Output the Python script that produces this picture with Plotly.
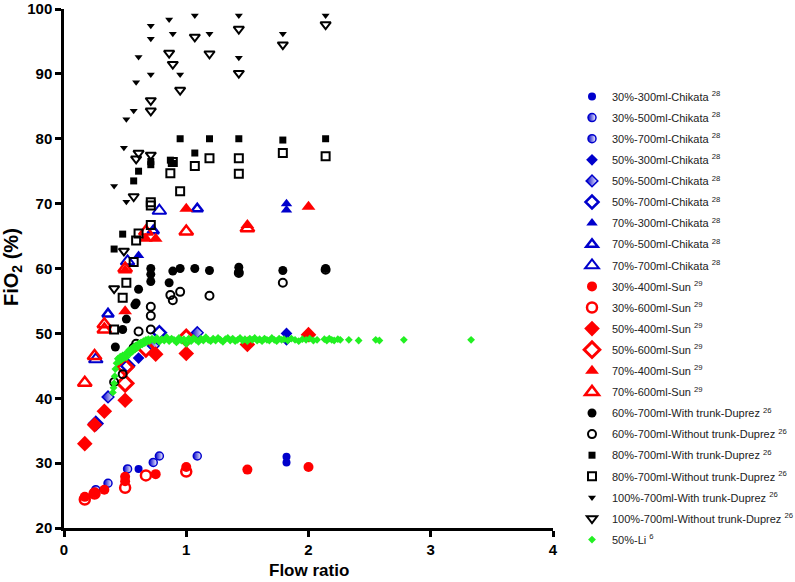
import plotly.graph_objects as go

# ---------------- data ----------------
# Chikata (blue)
c30_300_x = [0.61, 1.82, 1.82]; c30_300_y = [29.1, 30.1, 31.0]
c30_500_x = [0.36, 0.73, 1.09]; c30_500_y = [26.9, 30.1, 31.1]
c30_700_x = [0.26, 0.52, 0.78]; c30_700_y = [25.9, 29.1, 31.1]
c50_300_x = [0.61, 1.82, 1.82]; c50_300_y = [46.2, 49.0, 50.0]
c50_500_x = [0.36, 0.73, 1.09]; c50_500_y = [40.2, 48.1, 50.1]
c50_700_x = [0.26, 0.52, 0.78]; c50_700_y = [36.1, 45.0, 50.1]
c70_300_x = [0.61, 1.82, 1.82]; c70_300_y = [62.0, 69.0, 70.0]
c70_500_x = [0.36, 0.73, 1.09]; c70_500_y = [53.0, 65.8, 69.2]
c70_700_x = [0.26, 0.52, 0.78]; c70_700_y = [46.0, 61.1, 68.9]

# Sun (red)
s30_400_x = [0.17, 0.25, 0.33, 0.5, 0.5, 0.75, 1.0, 1.5, 2.0]
s30_400_y = [24.8, 25.4, 25.9, 27.9, 27.2, 28.3, 29.4, 29.0, 29.4]
s30_600_x = [0.17, 0.25, 0.5, 0.67, 1.0]
s30_600_y = [24.4, 25.3, 26.2, 28.1, 28.7]
s50_400_x = [0.17, 0.25, 0.33, 0.5, 0.75, 1.0, 1.5, 2.0]
s50_400_y = [33.0, 35.9, 38.0, 39.7, 46.8, 46.9, 48.3, 49.8]
s50_600_x = [0.5, 0.5, 0.67, 1.0]
s50_600_y = [42.3, 44.8, 47.7, 49.3]
s70_400_x = [0.5, 0.5, 0.67, 0.75, 1.0, 1.5, 2.0]
s70_400_y = [53.4, 59.7, 64.6, 64.6, 69.2, 66.7, 69.5]
s70_600_x = [0.17, 0.25, 0.33, 0.33, 0.5, 0.67, 1.0, 1.5]
s70_600_y = [42.4, 46.5, 50.6, 51.4, 60.0, 65.7, 65.7, 66.2]

# Duprez (black)
d60w_x = [0.42, 0.48, 0.51, 0.58, 0.59, 0.61, 0.71, 0.71, 0.71, 0.86, 0.89, 0.95, 1.07, 1.19, 1.43, 1.43, 1.79, 2.14]
d60w_y = [47.9, 50.6, 52.2, 54.4, 54.7, 56.8, 58.0, 59.1, 60.0, 57.8, 59.6, 60.0, 60.0, 59.7, 60.2, 59.5, 59.7, 60.0]
d60o_x = [0.41, 0.48, 0.57, 0.59, 0.61, 0.71, 0.71, 0.71, 0.87, 0.89, 0.95, 1.19, 1.43, 1.79, 2.14]
d60o_y = [42.5, 43.7, 47.8, 48.4, 50.3, 50.6, 52.7, 54.1, 55.9, 55.1, 56.4, 55.8, 59.3, 57.8, 59.8]
d80w_x = [0.41, 0.48, 0.57, 0.61, 0.71, 0.71, 0.87, 0.89, 0.95, 1.07, 1.19, 1.43, 1.79, 2.14]
d80w_y = [63.0, 65.3, 73.5, 75.0, 76.5, 76.0, 76.7, 76.2, 80.0, 77.8, 80.0, 80.0, 79.8, 80.0]
d80o_x = [0.41, 0.48, 0.51, 0.57, 0.59, 0.61, 0.71, 0.71, 0.71, 0.87, 0.89, 0.95, 1.07, 1.19, 1.43, 1.43, 1.79, 2.14]
d80o_y = [50.6, 55.5, 57.8, 61.0, 64.3, 65.4, 66.7, 69.7, 70.2, 74.7, 76.4, 71.9, 75.8, 77.0, 77.0, 74.6, 77.8, 77.3]
d100w_x = [0.41, 0.49, 0.51, 0.51, 0.57, 0.59, 0.61, 0.71, 0.71, 0.71, 0.86, 0.89, 0.95, 1.07, 1.19, 1.43, 1.43, 1.79, 2.14]
d100w_y = [72.7, 78.6, 70.3, 83.0, 84.3, 88.7, 92.6, 89.9, 95.4, 97.4, 98.4, 96.2, 89.9, 99.0, 96.2, 99.0, 92.5, 96.2, 99.0]
d100o_x = [0.41, 0.49, 0.57, 0.59, 0.61, 0.71, 0.71, 0.71, 0.86, 0.89, 0.95, 1.07, 1.19, 1.43, 1.43, 1.79, 2.14]
d100o_y = [56.9, 62.7, 71.1, 76.9, 77.8, 77.5, 84.3, 85.9, 93.2, 91.5, 87.5, 95.7, 93.1, 96.9, 90.1, 94.5, 97.6]

# Li (green)
li_x = [0.40, 0.405, 0.41, 0.415, 0.42, 0.43, 0.44, 0.45, 0.46, 0.47, 0.48, 0.49, 0.50, 0.51, 0.52,
        0.53, 0.54, 0.55, 0.56, 0.57, 0.58, 0.59, 0.60, 0.61, 0.62, 0.63, 0.64, 0.65, 0.66, 0.67,
        0.68, 0.69, 0.70, 0.72, 0.74, 0.76, 0.78, 0.80, 0.82, 0.84, 0.86, 0.88, 0.90, 0.92, 0.94,
        0.96, 0.98, 1.00, 1.02, 1.04, 1.06, 1.08, 1.10, 1.12, 1.14, 1.16, 1.18, 1.20, 1.22, 1.24,
        1.26, 1.28, 1.30, 1.32, 1.34, 1.36, 1.38, 1.40, 1.42, 1.44, 1.46, 1.48, 1.50, 1.52, 1.54,
        1.56, 1.58, 1.60, 1.62, 1.64, 1.66, 1.68, 1.70, 1.72, 1.74, 1.76, 1.78, 1.80, 1.83, 1.86,
        1.89, 1.92, 1.95, 1.98, 2.01, 2.04, 2.07, 2.13, 2.15, 2.17, 2.19, 2.21, 2.24, 2.26, 2.33,
        2.41, 2.55, 2.58, 2.78, 3.33]
li_y = [40.9, 41.6, 42.3, 43.4, 44.5, 45.4, 46.1, 45.7, 46.4, 45.9, 46.6, 46.2, 46.8, 46.3, 47.0,
        47.4, 46.9, 47.6, 47.2, 47.9, 47.5, 48.2, 47.8, 48.4, 48.1, 48.6, 48.3, 48.8, 48.5, 49.0,
        48.7, 49.1, 48.8, 49.2, 48.9, 49.3, 48.7, 49.1, 48.9, 49.4, 48.8, 49.2, 49.0, 48.6, 49.3,
        48.9, 49.1, 48.4, 49.2, 48.8, 49.3, 49.0, 48.7, 49.2, 48.9, 49.4, 49.0, 48.8, 49.2, 48.9,
        49.3, 49.0, 48.7, 49.1, 49.3, 48.9, 49.2, 48.8, 49.0, 49.3, 48.9, 49.1, 48.8, 49.2, 49.0,
        49.3, 48.9, 49.1, 48.8, 49.2, 49.0, 48.9, 49.3, 49.0, 48.8, 49.2, 49.0, 49.1, 48.9, 49.2,
        49.0, 48.8, 49.1, 49.0, 49.2, 48.9, 49.0, 49.1, 48.9, 49.2, 49.0, 48.9, 49.1, 49.0, 49.0,
        48.9, 49.0, 48.9, 49.0, 49.0]

BLUE = "#0000CC"
RED = "#FF0000"
BLACK = "#000000"
GREEN = "#22F022"

fig = go.Figure()

def add(name, xs, ys, color, symbol, size, lw=0, lcolor=None, gradient=None):
    marker = dict(color=color, symbol=symbol, size=size,
                  line=dict(width=lw, color=lcolor or color))
    if gradient:
        marker["gradient"] = dict(type="horizontal", color="white")
    fig.add_trace(go.Scatter(x=xs, y=ys, mode="markers", name=name,
                             legendgroup=name, marker=marker))

add("30%-300ml-Chikata <sup>28</sup>", c30_300_x, c30_300_y, BLUE, "circle", 8)
add("30%-500ml-Chikata <sup>28</sup>", c30_500_x, c30_500_y, BLUE, "circle", 8, 1.5, BLUE, True)
add("30%-700ml-Chikata <sup>28</sup>", c30_700_x, c30_700_y, BLUE, "circle", 8, 1.5, BLUE, True)
add("50%-300ml-Chikata <sup>28</sup>", c50_300_x, c50_300_y, BLUE, "diamond", 9)
add("50%-500ml-Chikata <sup>28</sup>", c50_500_x, c50_500_y, BLUE, "diamond", 9, 1.5, BLUE, True)
add("50%-700ml-Chikata <sup>28</sup>", c50_700_x, c50_700_y, BLUE, "diamond-open", 10, 2.5)
add("70%-300ml-Chikata <sup>28</sup>", c70_300_x, c70_300_y, BLUE, "triangle-up", 10)
add("70%-500ml-Chikata <sup>28</sup>", c70_500_x, c70_500_y, BLUE, "triangle-up-open", 10, 2.5)
add("70%-700ml-Chikata <sup>28</sup>", c70_700_x, c70_700_y, BLUE, "triangle-up-open", 12, 2)
add("30%-400ml-Sun <sup>29</sup>", s30_400_x, s30_400_y, RED, "circle", 10)
add("30%-600ml-Sun <sup>29</sup>", s30_600_x, s30_600_y, RED, "circle-open", 10, 2.5)
add("50%-400ml-Sun <sup>29</sup>", s50_400_x, s50_400_y, RED, "diamond", 12)
add("50%-600ml-Sun <sup>29</sup>", s50_600_x, s50_600_y, RED, "diamond-open", 12, 3)
add("70%-400ml-Sun <sup>29</sup>", s70_400_x, s70_400_y, RED, "triangle-up", 12)
add("70%-600ml-Sun <sup>29</sup>", s70_600_x, s70_600_y, RED, "triangle-up-open", 12, 2.5)
add("60%-700ml-With trunk-Duprez <sup>26</sup>", d60w_x, d60w_y, BLACK, "circle", 9)
add("60%-700ml-Without trunk-Duprez <sup>26</sup>", d60o_x, d60o_y, BLACK, "circle-open", 8, 2)
add("80%-700ml-With trunk-Duprez <sup>26</sup>", d80w_x, d80w_y, BLACK, "square", 7)
add("80%-700ml-Without trunk-Duprez <sup>26</sup>", d80o_x, d80o_y, BLACK, "square-open", 8, 2)
add("100%-700ml-With trunk-Duprez <sup>26</sup>", d100w_x, d100w_y, BLACK, "triangle-down", 7)
add("100%-700ml-Without trunk-Duprez <sup>26</sup>", d100o_x, d100o_y, BLACK, "triangle-down-open", 9, 2)
add("50%-Li <sup>6</sup>", li_x, li_y, GREEN, "diamond", 6)

L, R, T, B = 64, 242, 9, 54
W, H = 795, 582
pw, ph = W - L - R, H - T - B

def px2paper_x(px):
    return (px - L) / pw

def px2paper_y(py):
    return (H - B - py) / ph

axis_common = dict(showgrid=False, zeroline=False, showline=True, linecolor="black",
                   linewidth=2.5, ticks="outside", ticklen=6, tickwidth=2.5,
                   tickcolor="black", automargin=False, ticklabeloverflow="allow",
                   tickfont=dict(family="Liberation Sans, Arial", size=15, color="black",
                                 weight="bold"))

fig.update_layout(
    width=W, height=H,
    margin=dict(l=L, r=R, t=T, b=B, autoexpand=False),
    paper_bgcolor="white", plot_bgcolor="white",
    font=dict(family="Liberation Sans, Arial", color="#222"),
    xaxis=dict(range=[0, 4], tickvals=[0, 1, 2, 3, 4], **axis_common),
    yaxis=dict(range=[20, 100], tickvals=[20, 30, 40, 50, 60, 70, 80, 90, 100], **axis_common),
    legend=dict(xref="container", yref="container",
                x=572 / W, xanchor="left", y=1 - 82 / H, yanchor="top",
                font=dict(size=11.0, color="#222"), tracegroupgap=2.1,
                maxheight=560,
                bgcolor="rgba(0,0,0,0)"),
    showlegend=True,
    annotations=[
        dict(text="<b>Flow ratio</b>", xref="paper", yref="paper",
             x=px2paper_x(308.5), y=px2paper_y(570), xanchor="center", yanchor="middle",
             showarrow=False, font=dict(size=17, color="black")),
        dict(text="<b>FiO<sub>2</sub> (%)</b>", xref="paper", yref="paper",
             x=px2paper_x(12), y=px2paper_y(267), xanchor="center", yanchor="middle",
             textangle=-90, showarrow=False, font=dict(size=20, color="black")),
    ],
)

fig.write_html("out.html", config={"displayModeBar": False},
               post_script="document.body.style.margin='0';document.body.style.padding='0';")
